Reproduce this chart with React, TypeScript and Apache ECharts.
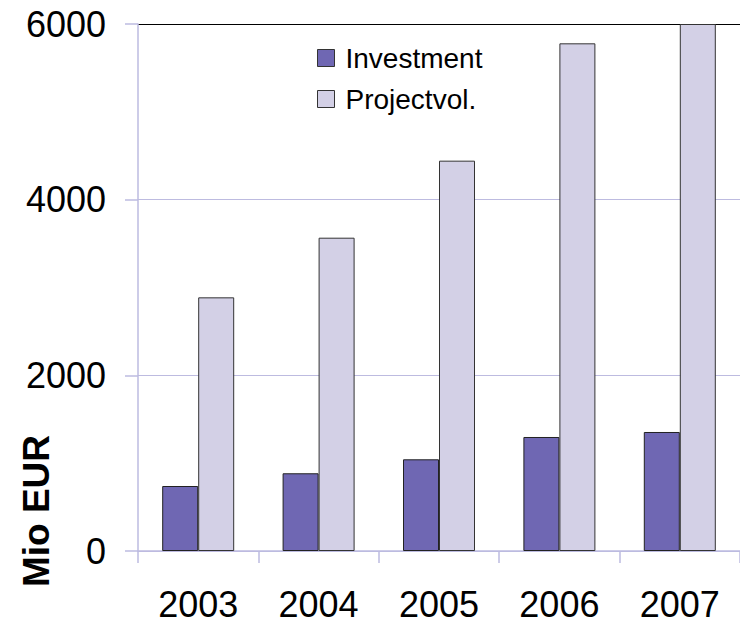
import React, { useEffect, useRef } from "react";
import * as echarts from "echarts";

const years = ["2003", "2004", "2005", "2006", "2007"];
const investment = [740, 885, 1044, 1298, 1355];
const projectVol = [2888, 3567, 4444, 5780, 6000];
const yTicks = { min: 0, max: 6000, interval: 2000 };

const LAV = "#BDBBE0";
const FONT = "Liberation Sans, Arial, sans-serif";

export default function App() {
  const ref = useRef<HTMLDivElement>(null);
  useEffect(() => {
    if (!ref.current) return;
    const chart = echarts.init(ref.current, null, { renderer: "svg" });
    chart.setOption({
      animation: false,
      backgroundColor: "#fff",
      textStyle: { fontFamily: FONT },
      grid: { left: 138, top: 24, width: 610, height: 527, containLabel: false },
      legend: {
        orient: "vertical",
        left: 312,
        top: 39,
        itemWidth: 17,
        itemHeight: 17,
        itemGap: 13,
        icon: "rect",
        itemStyle: { borderColor: "#333", borderWidth: 1 },
        textStyle: { fontSize: 28, color: "#000", padding: [0, 0, 0, 6], fontFamily: FONT },
        data: ["Investment", "Projectvol."],
      },
      xAxis: {
        type: "category",
        data: years,
        axisLine: { lineStyle: { color: LAV, width: 1.5 } },
        axisTick: { show: true, length: 12, lineStyle: { color: LAV, width: 1.5 } },
        axisLabel: { fontSize: 36, color: "#000", margin: 35, fontFamily: FONT },
      },
      yAxis: {
        type: "value",
        min: yTicks.min,
        max: yTicks.max,
        interval: yTicks.interval,
        axisLine: { show: true, lineStyle: { color: LAV, width: 1.5 } },
        axisTick: { show: true, length: 13, lineStyle: { color: LAV, width: 1.5 } },
        axisLabel: {
          fontSize: 36,
          color: "#000",
          margin: 32,
          fontFamily: FONT,
          formatter: (v: number) => String(v),
        },
        splitLine: { show: true, lineStyle: { color: [LAV, LAV, LAV, "#000"], width: 1 } },
      },
      graphic: [
        {
          type: "text",
          x: 36,
          y: 511,
          rotation: Math.PI / 2,
          style: {
            text: "Mio EUR",
            fontSize: 37,
            fontWeight: "bold",
            fill: "#000",
            align: "center",
            verticalAlign: "middle",
            fontFamily: FONT,
          },
        },
      ],
      series: [
        {
          name: "Investment",
          type: "bar",
          data: investment,
          barWidth: 36,
          barGap: "0%",
          itemStyle: { color: "#6F67B3", borderColor: "#222", borderWidth: 1 },
        },
        {
          name: "Projectvol.",
          type: "bar",
          data: projectVol,
          barWidth: 36,
          barGap: "0%",
          itemStyle: { color: "#D3D0E6", borderColor: "#333", borderWidth: 1 },
        },
      ],
    });
    return () => chart.dispose();
  }, []);
  return <div ref={ref} style={{ position: "fixed", left: 0, top: 0, width: 740, height: 623 }} />;
}
